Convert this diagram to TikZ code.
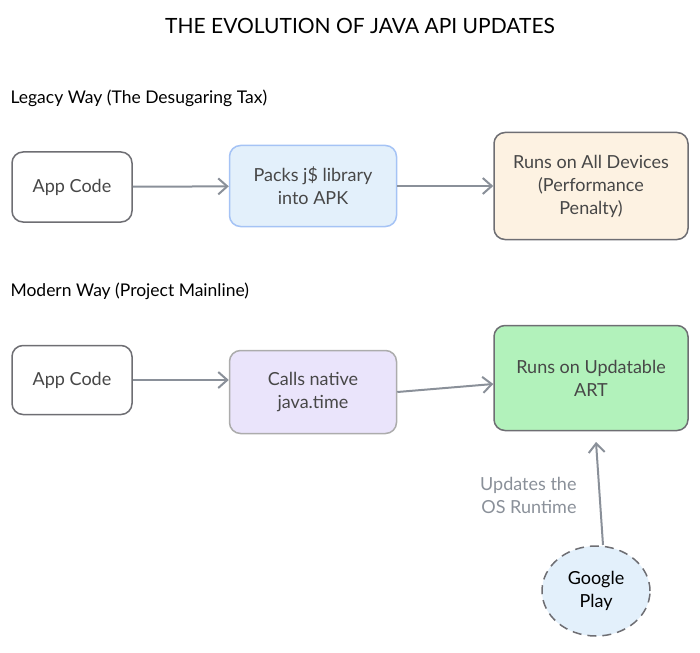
\documentclass[tikz,border=0pt]{standalone}
\usepackage{fontspec}
\setmainfont{Lato}
\usetikzlibrary{arrows.meta,shapes.geometric}
\definecolor{bfill}{HTML}{E3F0FB}
\definecolor{bdraw}{HTML}{A5C3F5}
\definecolor{ofill}{HTML}{FDF2E2}
\definecolor{vfill}{HTML}{EAE4FB}
\definecolor{gfill}{HTML}{B2F2BB}
\definecolor{edge}{HTML}{6E6E73}
\definecolor{arrc}{HTML}{8A9099}
\begin{document}
\begin{tikzpicture}[x=1pt,y=-1pt,
 box/.style={draw=edge,line width=1.5pt,rounded corners=11pt,align=center,font=\fontsize{18}{23}\selectfont,text=black!72,inner sep=0pt},
 arr/.style={draw=arrc,line width=2pt,-{Straight Barb[length=9pt,width=16pt,line width=2pt]}},
 lbl/.style={font=\fontsize{17.5}{21}\selectfont,anchor=west}]
\useasboundingbox (0,0) rectangle (700,652);
\node[font=\fontsize{21}{25}\selectfont] (t) at (360,26) {THE EVOLUTION OF JAVA API UPDATES};
\node[lbl] (l1) at (7,98) {Legacy Way (The Desugaring Tax)};
\node[lbl] (l2) at (7,291) {Modern Way (Project Mainline)};
\node[box,fill=white,minimum width=120pt,minimum height=70pt] (a1) at (72,187) {App Code};
\node[box,fill=bfill,draw=bdraw,minimum width=167pt,minimum height=81pt] (b1) at (313,186) {Packs j\$ library\\into APK};
\node[box,fill=ofill,minimum width=194pt,minimum height=107pt] (c1) at (591,186) {Runs on All Devices\\(Performance\\Penalty)};
\node[box,fill=white,minimum width=120pt,minimum height=69pt] (a2) at (72,380) {App Code};
\node[box,fill=vfill,draw=gray!65,minimum width=167pt,minimum height=83pt] (b2) at (313,392) {Calls native\\java.time};
\node[box,fill=gfill,minimum width=194pt,minimum height=105pt] (c2) at (591,378) {Runs on Updatable\\ART};
\node[ellipse,draw=edge,dash pattern=on 9pt off 6pt,line width=1.5pt,fill=bfill,minimum width=108pt,minimum height=90pt,align=center,font=\fontsize{18}{23}\selectfont,inner sep=0pt] (g) at (596,591) {Google\\Play};
\draw[arr] (a1) -- (b1);
\draw[arr] (b1) -- (c1);
\draw[arr] (a2.east) -- (b2.west|-a2.east);
\draw[arr] (b2.east) -- (c2.west|-0,384);
\coordinate (gs) at (603,545);
\coordinate (ge) at (596,442);
\draw[arr] (gs) -- (ge);
\node[font=\fontsize{18}{23}\selectfont,text=arrc,align=right,anchor=east] (u) at (580,495) {Updates the\\OS Runtime};
\end{tikzpicture}
\end{document}
